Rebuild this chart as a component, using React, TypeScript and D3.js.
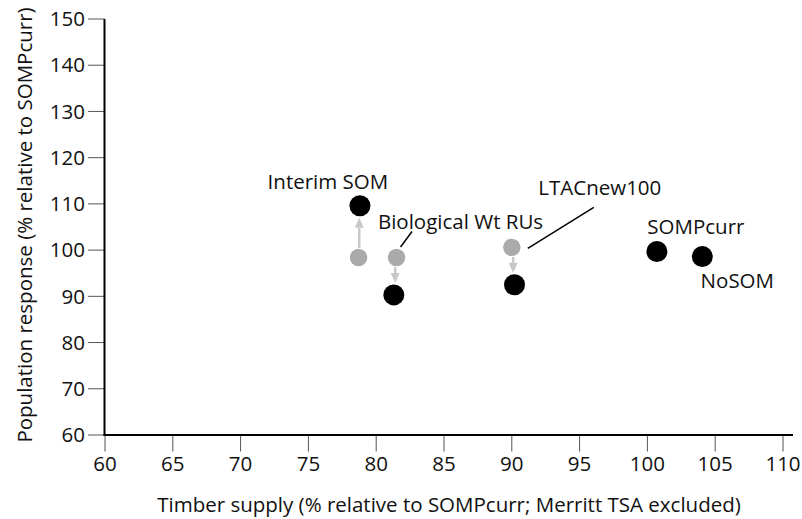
import React from "react";
import * as d3 from "d3";

// ---- data ----
const scenarios = ["Interim SOM", "Biological Wt RUs", "LTACnew100", "SOMPcurr", "NoSOM"];
const timberFinal = [78.8, 81.3, 90.2, 100.7, 104.05];
const popFinal = [109.6, 90.3, 92.5, 99.7, 98.6];
// earlier (grey) positions for the scenarios that moved
const movedIdx = [0, 1, 2];
const timberBefore = [78.7, 81.5, 90.0];
const popBefore = [98.4, 98.4, 100.6];
const xTicks = [60, 65, 70, 75, 80, 85, 90, 95, 100, 105, 110];
const yTicks = [60, 70, 80, 90, 100, 110, 120, 130, 140, 150];

const W = 802;
const H = 519;
const FONT = "'Open Sans', 'Noto Sans', sans-serif";

// label layout (pixel offsets from the label's anchor point)
const labelLayout = [
  { ref: "final", dx: -32, dy: -16.5, anchor: "middle" },
  { ref: "before", dx: 64, dy: -29, anchor: "middle" },
  { ref: "before", dx: 88, dy: -52, anchor: "middle" },
  { ref: "final", dx: 39, dy: -17.5, anchor: "middle" },
  { ref: "final", dx: 35, dy: 31, anchor: "middle" },
];

export default function App() {
  const x = d3.scaleLinear().domain([60, 110]).range([105, 783]);
  const y = d3.scaleLinear().domain([60, 150]).range([435, 19]);
  const rBlack = 10.5;
  const rGrey = 8.7;
  const fs = 20.5;

  const arrows = movedIdx.map((i, k) => {
    const x0 = x(timberBefore[k]);
    const y0 = y(popBefore[k]);
    const x1 = x(timberFinal[i]);
    const y1 = y(popFinal[i]);
    const dir = y1 < y0 ? -1 : 1;
    const start = y0 + dir * (rGrey + 1);
    const tip = y1 - dir * (rBlack + 1.5);
    const xm = (x0 + x1) / 2;
    const headLen = 10;
    const headW = 4.5;
    const base = tip - dir * headLen;
    return (
      <g key={"a" + k}>
        <line x1={xm} y1={start} x2={xm} y2={base} stroke="#c8c8c8" strokeWidth={2.5} />
        <path d={`M${xm - headW},${base} L${xm + headW},${base} L${xm},${tip} Z`} fill="#c8c8c8" />
      </g>
    );
  });

  const labelPos = scenarios.map((s, i) => {
    const L = labelLayout[i];
    let px: number, py: number;
    if (L.ref === "before") {
      const k = movedIdx.indexOf(i);
      px = x(timberBefore[k]);
      py = y(popBefore[k]);
    } else {
      px = x(timberFinal[i]);
      py = y(popFinal[i]);
    }
    return { px, py, tx: px + L.dx, ty: py + L.dy, anchor: L.anchor };
  });

  // leader lines for Biological Wt RUs and LTACnew100
  const bioG = { x: x(timberBefore[1]), y: y(popBefore[1]) };
  const ltG = { x: x(timberBefore[2]), y: y(popBefore[2]) };

  return (
    <svg width={W} height={H} style={{ position: "absolute", left: 0, top: 0 }} fontFamily={FONT}>
      <rect width={W} height={H} fill="#fff" />
      {/* y ticks */}
      {yTicks.map((t) => (
        <g key={"y" + t}>
          <line x1={88} x2={104.5} y1={y(t)} y2={y(t)} stroke="#555" strokeWidth={1} />
          <text x={85} y={y(t)} dy="0.35em" textAnchor="end" fontSize={fs} fill="#111">
            {t}
          </text>
        </g>
      ))}
      {/* x ticks */}
      {xTicks.map((t) => (
        <g key={"x" + t}>
          <line x1={x(t)} x2={x(t)} y1={435} y2={451.5} stroke="#555" strokeWidth={1} />
          <text x={x(t)} y={471} textAnchor="middle" fontSize={fs} fill="#111">
            {t}
          </text>
        </g>
      ))}
      {/* axes */}
      <line x1={104.5} x2={104.5} y1={y(150)} y2={435.8} stroke="#000" strokeWidth={2} />
      <line x1={103.5} x2={793} y1={435} y2={435} stroke="#000" strokeWidth={2} />
      {/* axis titles */}
      <text x={449} y={511.5} textAnchor="middle" fontSize={fs} fill="#111">
        Timber supply (% relative to SOMPcurr; Merritt TSA excluded)
      </text>
      <text
        transform={`translate(31.5,${225}) rotate(-90)`}
        textAnchor="middle"
        fontSize={fs}
        fill="#111"
      >
        Population response (% relative to SOMPcurr)
      </text>
      {/* arrows */}
      {arrows}
      {/* grey earlier points */}
      {movedIdx.map((i, k) => (
        <circle key={"g" + k} cx={x(timberBefore[k])} cy={y(popBefore[k])} r={rGrey} fill="#aaaaaa" />
      ))}
      {/* black final points */}
      {scenarios.map((s, i) => (
        <circle key={"b" + i} cx={x(timberFinal[i])} cy={y(popFinal[i])} r={rBlack} fill="#000" />
      ))}
      {/* leader lines */}
      <line x1={bioG.x + 4} y1={bioG.y - 10.5} x2={bioG.x + 15.5} y2={bioG.y - 26} stroke="#000" strokeWidth={1.5} />
      <line x1={ltG.x + 16} y1={ltG.y + 1} x2={ltG.x + 82} y2={ltG.y - 40} stroke="#000" strokeWidth={1.5} />
      {/* labels */}
      {scenarios.map((s, i) => (
        <text
          key={"l" + i}
          x={labelPos[i].tx}
          y={labelPos[i].ty}
          textAnchor={labelPos[i].anchor as any}
          fontSize={fs}
          fill="#111"
        >
          {s}
        </text>
      ))}
    </svg>
  );
}
